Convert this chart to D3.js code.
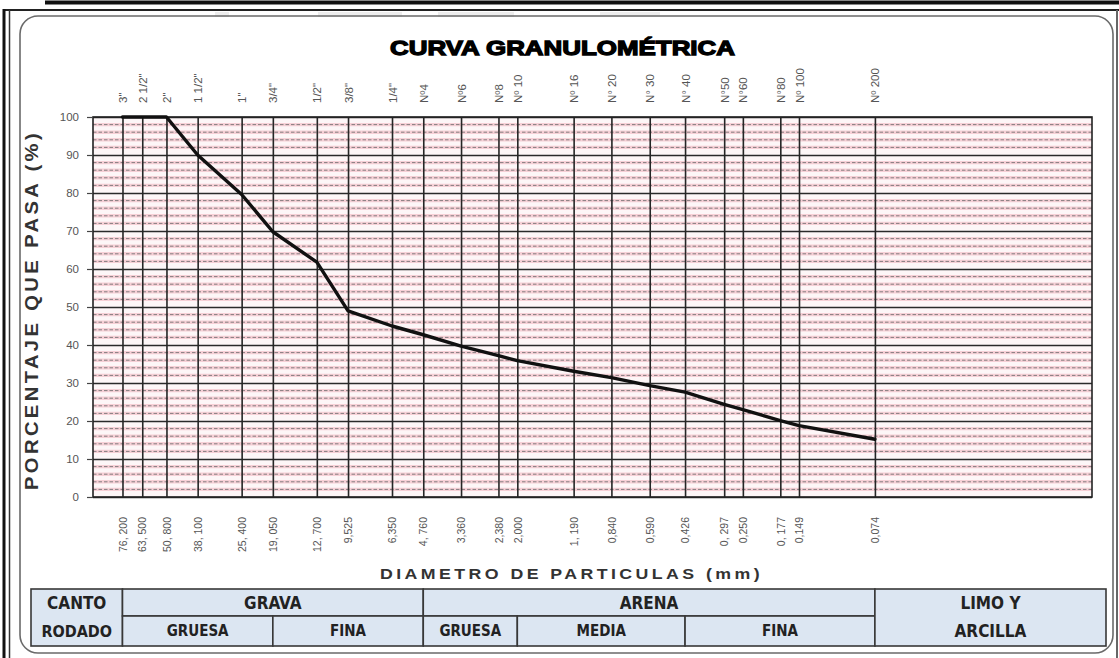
<!DOCTYPE html>
<html>
<head>
<meta charset="utf-8">
<script src="https://cdn.jsdelivr.net/npm/d3@7"></script>
<style>
  html, body { margin: 0; padding: 0; background: #fff; }
  svg { display: block; font-family: "Liberation Sans", Arial, sans-serif; }
</style>
</head>
<body>
<svg id="chart" width="1119" height="658"></svg>
<script>
// Sieve designations (top axis), openings in mm and their printed labels (bottom axis)
const sieveNames = ['3"', '2 1/2"', '2"', '1 1/2"', '1"', '3/4"', '1/2"', '3/8"', '1/4"',
  'Nº4', 'Nº6', 'Nº8', 'Nº 10', 'Nº 16', 'N° 20', 'N° 30', 'N° 40', 'N°50', 'N°60', 'N°80', 'Nº 100', 'Nº 200'];
const openings = [76.2, 63.5, 50.8, 38.1, 25.4, 19.05, 12.7, 9.525, 6.35,
  4.76, 3.36, 2.38, 2.0, 1.19, 0.84, 0.59, 0.426, 0.297, 0.25, 0.177, 0.149, 0.074];
const openingLabels = ['76, 200', '63, 500', '50, 800', '38, 100', '25, 400', '19, 050', '12, 700', '9,525', '6,350',
  '4, 760', '3,360', '2,380', '2,000', '1, 190', '0,840', '0,590', '0,426', '0, 297', '0,250', '0, 177', '0,149', '0,074'];
// Percentage passing at each sieve
const percentPassing = [100, 100, 100, 90.0, 79.6, 69.8, 61.8, 49.0, 45.0,
  42.7, 39.7, 37.2, 35.9, 33.1, 31.4, 29.3, 27.6, 24.4, 23.0, 20.1, 18.8, 15.2];
const yTicks = [0, 10, 20, 30, 40, 50, 60, 70, 80, 90, 100];

// Soil classification bands (limits in mm)
const groupNames = ['GRAVA', 'ARENA'];
const groupLimits = [[76.2, 4.76], [4.76, 0.074]];
const subgroupNames = ['GRUESA', 'FINA', 'GRUESA', 'MEDIA', 'FINA'];
const subgroupLimits = [[76.2, 19.05], [19.05, 4.76], [4.76, 2.0], [2.0, 0.426], [0.426, 0.074]];

const svg = d3.select('#chart');
const W = 1119, H = 658;
const plot = { left: 93, right: 1092, top: 117, bottom: 497 };

const x = d3.scaleLog().domain([100, 0.01]).range([plot.left, plot.right]);
const y = d3.scaleLinear().domain([0, 100]).range([plot.bottom, plot.top]);

// ---- page frame ----
const frame = svg.append('g');
frame.append('rect').attr('x', 0).attr('y', 0).attr('width', W).attr('height', H).attr('fill', '#fff');
// faint remnants of text above the frame
[[215, 12, 14], [318, 12, 84], [438, 12, 76], [600, 12, 60]].forEach(r => {
  frame.append('rect').attr('x', r[0]).attr('y', r[1]).attr('width', r[2]).attr('height', 5)
    .attr('fill', '#dcdcdc').attr('opacity', 0.5);
});
frame.append('line').attr('x1', 45).attr('x2', W).attr('y1', 2.5).attr('y2', 2.5)
  .attr('stroke', '#111').attr('stroke-width', 4);
frame.append('line').attr('x1', 3).attr('x2', W).attr('y1', 10).attr('y2', 10)
  .attr('stroke', '#222').attr('stroke-width', 2);
frame.append('line').attr('x1', 4).attr('x2', 4).attr('y1', 9).attr('y2', H)
  .attr('stroke', '#111').attr('stroke-width', 3);
frame.append('line').attr('x1', 9.5).attr('x2', 9.5).attr('y1', 10).attr('y2', H)
  .attr('stroke', '#333').attr('stroke-width', 1.5);
frame.append('line').attr('x1', 1117).attr('x2', 1117).attr('y1', 10).attr('y2', H)
  .attr('stroke', '#666').attr('stroke-width', 2);
frame.append('rect').attr('x', 20).attr('y', 16).attr('width', 1093).attr('height', 637)
  .attr('rx', 18).attr('fill', 'none').attr('stroke', '#6a6a6a').attr('stroke-width', 1.6);

// ---- title ----
svg.append('text').attr('x', 390).attr('y', 55)
  .attr('textLength', 345).attr('lengthAdjust', 'spacingAndGlyphs')
  .style('font-size', '21px').style('font-weight', 900)
  .attr('fill', '#000').attr('stroke', '#000').attr('stroke-width', 1.3)
  .text('CURVA GRANULOMÉTRICA');

// ---- plot area ----
const pw = plot.right - plot.left, ph = plot.bottom - plot.top;
svg.append('rect').attr('x', plot.left).attr('y', plot.top).attr('width', pw).attr('height', ph)
  .attr('fill', '#fdf6f7');

// minor horizontal grid: pink band with grey dashes every 2 %
const minor = d3.range(2, 100, 2).filter(v => v % 10 !== 0);
const minorG = svg.append('g');
minorG.selectAll('line.band').data(minor).join('line').attr('class', 'band')
  .attr('x1', plot.left).attr('x2', plot.right).attr('y1', d => y(d)).attr('y2', d => y(d))
  .attr('stroke', '#f6d0d6').attr('stroke-width', 3.4);
minorG.selectAll('line.dash').data(minor).join('line').attr('class', 'dash')
  .attr('x1', plot.left).attr('x2', plot.right).attr('y1', d => y(d)).attr('y2', d => y(d))
  .attr('stroke', '#857c7f').attr('stroke-width', 1).attr('stroke-dasharray', '3.5,2');

// major horizontal grid
const hGrid = svg.append('g').attr('transform', `translate(${plot.left},0)`)
  .call(d3.axisLeft(y).tickValues(yTicks).tickSize(-pw).tickFormat(''));
hGrid.select('.domain').remove();
hGrid.selectAll('line').attr('stroke', '#2a2a2a').attr('stroke-width', 1.7);

// vertical sieve lines
const vGrid = svg.append('g').attr('transform', `translate(0,${plot.bottom})`)
  .call(d3.axisBottom(x).tickValues(openings).tickSize(-ph).tickFormat(''));
vGrid.select('.domain').remove();
vGrid.selectAll('line').attr('stroke', '#262626').attr('stroke-width', 1.6);

svg.append('rect').attr('x', plot.left).attr('y', plot.top).attr('width', pw).attr('height', ph)
  .attr('fill', 'none').attr('stroke', '#222').attr('stroke-width', 1.6);

// ---- y axis ----
const yAxis = svg.append('g').attr('transform', `translate(${plot.left},0)`)
  .call(d3.axisLeft(y).tickValues(yTicks).tickSize(6).tickPadding(8));
yAxis.select('.domain').remove();
yAxis.selectAll('line').attr('stroke', '#444').attr('stroke-width', 1.2);
yAxis.selectAll('text').attr('fill', '#555').style('font-size', '11.5px')
  .style('font-family', '"Liberation Sans", Arial, sans-serif');

svg.append('text')
  .attr('transform', 'translate(38,310) rotate(-90)')
  .attr('text-anchor', 'middle')
  .attr('textLength', 360).attr('lengthAdjust', 'spacingAndGlyphs')
  .style('font-size', '18px').style('font-weight', 'bold').style('letter-spacing', '3px')
  .attr('fill', '#333')
  .text('PORCENTAJE QUE PASA (%)');

// ---- top axis: sieve names ----
const topAxis = svg.append('g').attr('transform', 'translate(0,103)')
  .call(d3.axisTop(x).tickValues(openings).tickSize(0).tickFormat((d, i) => sieveNames[i]));
topAxis.select('.domain').remove();
topAxis.selectAll('text')
  .attr('transform', 'rotate(-90)').attr('x', 0).attr('y', 0).attr('dy', '0.35em')
  .style('text-anchor', 'start').style('font-size', '11.5px')
  .style('font-family', '"Liberation Sans", Arial, sans-serif').attr('fill', '#555');

// ---- bottom axis: openings in mm ----
const botAxis = svg.append('g').attr('transform', 'translate(0,517)')
  .call(d3.axisBottom(x).tickValues(openings).tickSize(0).tickFormat((d, i) => openingLabels[i]));
botAxis.select('.domain').remove();
botAxis.selectAll('text')
  .attr('transform', 'rotate(-90)').attr('x', 0).attr('y', 0).attr('dy', '0.35em')
  .style('text-anchor', 'end').style('font-size', '10.5px')
  .style('font-family', '"Liberation Sans", Arial, sans-serif').attr('fill', '#555');

svg.append('text').attr('x', 380).attr('y', 579)
  .attr('textLength', 383).attr('lengthAdjust', 'spacingAndGlyphs')
  .style('font-size', '15.5px').style('font-weight', 'bold').style('letter-spacing', '3px')
  .attr('fill', '#333')
  .text('DIAMETRO DE PARTICULAS (mm)');

// ---- grading curve ----
const pts = openings.map((d, i) => [d, percentPassing[i]]);
svg.append('path').datum(pts)
  .attr('d', d3.line().x(d => x(d[0])).y(d => y(d[1])))
  .attr('fill', 'none').attr('stroke', '#111').attr('stroke-width', 3.4)
  .attr('stroke-linejoin', 'round').attr('stroke-linecap', 'round');

// ---- classification table ----
const tbl = { left: 31, right: 1106, top: 589, mid: 616, bottom: 646 };
const tg = svg.append('g');
const cellFill = '#dce6f2', cellStroke = '#383838';
const narrow = '"Liberation Sans Narrow", "DejaVu Sans Condensed", "Liberation Sans", sans-serif';

function cell(x0, x1, y0, y1) {
  tg.append('rect').attr('x', x0).attr('y', y0).attr('width', x1 - x0).attr('height', y1 - y0)
    .attr('fill', cellFill).attr('stroke', cellStroke).attr('stroke-width', 1.6);
}
function label(txt, cx, cy, size) {
  tg.append('text').attr('x', cx).attr('y', cy).attr('dy', '0.36em').attr('text-anchor', 'middle')
    .style('font-family', narrow).style('font-weight', 'bold').style('font-size', size + 'px')
    .attr('fill', '#222').text(txt);
}
const rowTop = (tbl.top + tbl.mid) / 2, rowBot = (tbl.mid + tbl.bottom) / 2;

cell(tbl.left, x(openings[0]), tbl.top, tbl.bottom);
label('CANTO', (tbl.left + x(openings[0])) / 2, rowTop, 17);
label('RODADO', (tbl.left + x(openings[0])) / 2, rowBot, 16);

groupNames.forEach((g, i) => {
  const x0 = x(groupLimits[i][0]), x1 = x(groupLimits[i][1]);
  cell(x0, x1, tbl.top, tbl.mid);
  label(g, (x0 + x1) / 2, rowTop, 17);
});
subgroupNames.forEach((s, i) => {
  const x0 = x(subgroupLimits[i][0]), x1 = x(subgroupLimits[i][1]);
  cell(x0, x1, tbl.mid, tbl.bottom);
  label(s, (x0 + x1) / 2, rowBot, 15);
});
const fx = x(openings[openings.length - 1]);
cell(fx, tbl.right, tbl.top, tbl.bottom);
label('LIMO Y', (fx + tbl.right) / 2, rowTop, 17);
label('ARCILLA', (fx + tbl.right) / 2, rowBot, 17);
</script>
</body>
</html>
